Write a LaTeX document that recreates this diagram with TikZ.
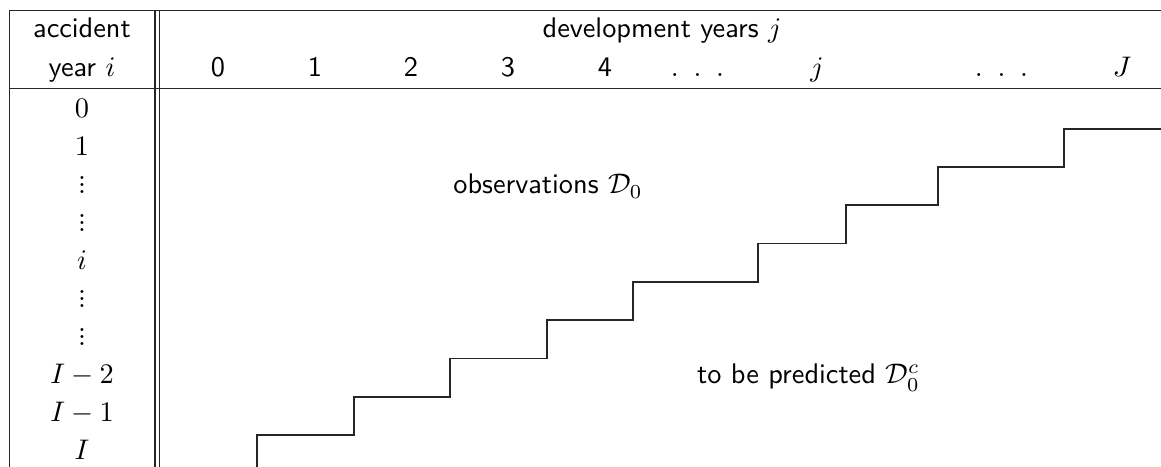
\documentclass[tikz,border=0pt]{standalone}
\newcommand\myvd{\vbox{\baselineskip=2.5pt\lineskiplimit=-10pt\lineskip=0pt\hbox{$.$}\hbox{$.$}\hbox{$.$}}}
\begin{document}
\begin{tikzpicture}[x=0.353pt,y=-0.353pt,
  rule/.style={line width=0.42pt,draw=black!85},
  stair/.style={line width=0.42pt,draw=black!85},
  txt/.style={anchor=base,inner sep=0pt,font=\sffamily},
  lab/.style={anchor=base,inner sep=0pt}]
\useasboundingbox (0,0) rectangle (1161,467);
% rules
\coordinate (tl) at (9.3,10.7);
\coordinate (tr) at (1161,10.7);
\coordinate (hl) at (9.3,88.7);
\coordinate (hr) at (1161,88.7);
\coordinate (bl) at (9.3,467);
\coordinate (d1t) at (155,10.7);
\coordinate (d1b) at (155,467);
\coordinate (d2t) at (159.3,10.7);
\coordinate (d2b) at (159.3,467);
\draw[rule] (tl) -- (tr);
\draw[rule] (hl) -- (hr);
\draw[rule] (tl) -- (bl);
\draw[rule] (d1t) -- (d1b);
\draw[rule] (d2t) -- (d2b);
% header
\node[txt] (acc) at (82,37.5) {accident};
\node[txt] (yr) at (82,77) {year $i$};
\node[txt] (dev) at (662,38) {development years $j$};
\node[txt] (c0) at (218,77) {0};
\node[txt] (c1) at (315,77) {1};
\node[txt] (c2) at (411,77) {2};
\node[txt] (c3) at (508,77) {3};
\node[txt] (c4) at (605,77) {4};
\node[lab] (cd1) at (697.5,77) {$.\hspace{5.2pt}.\hspace{5.2pt}.$};
\node[lab] (cj) at (817,77) {$j$};
\node[lab] (cd2) at (1001.5,77) {$.\hspace{5.2pt}.\hspace{5.2pt}.$};
\node[lab] (cJ) at (1122,77) {$J$};
% row labels
\node[lab] (r0) at (82,118) {$0$};
\node[lab] (r1) at (82,156) {$1$};
\node[lab] (r2) at (82,194) {\myvd};
\node[lab] (r3) at (82,232) {\myvd};
\node[lab] (r4) at (82,270) {$i$};
\node[lab] (r5) at (82,308) {\myvd};
\node[lab] (r6) at (82,346) {\myvd};
\node[lab] (r7) at (82,384) {$I-2$};
\node[lab] (r8) at (82,422) {$I-1$};
\node[lab] (r9) at (82,460) {$I$};
% region labels
\node[txt] (obs) at (548,194) {observations $\mathcal{D}_0$};
\node[txt] (pred) at (808.5,384) {to be predicted $\mathcal{D}_0^c$};
% staircase
\coordinate (s0) at (257,467);
\coordinate (s1) at (1161,129);
\draw[stair] (s0) -- (257,435) -- (354,435) -- (354,397) -- (450,397)
  -- (450,358.5) -- (547,358.5) -- (547,320) -- (633,320) -- (633,282)
  -- (758,282) -- (758,243.5) -- (846,243.5) -- (846,205) -- (938,205)
  -- (938,167) -- (1064,167) -- (1064,129) -- (s1);
\end{tikzpicture}
\end{document}
